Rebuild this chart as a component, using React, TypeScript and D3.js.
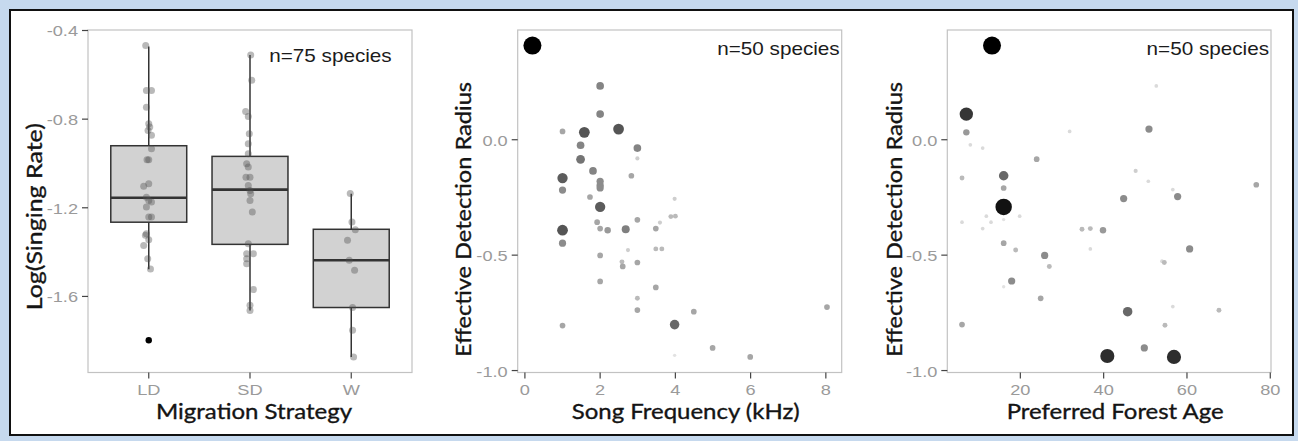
import { useEffect, useRef } from 'react';
import * as d3 from 'd3';

const WIDTH = 1298;
const HEIGHT = 441;

const COLORS = {
    page: '#c6d9ee',
    frame: '#111111',
    border: '#c2c2c2',
    tick: '#444444',
    tickText: '#9a9a9a',
    title: '#141414',
    box: '#d2d2d2',
    boxLine: '#333333',
    jitter: '#505050',
};

// ---- Panel 1: singing rate by migration strategy ----
const strategies = ['LD', 'SD', 'W'];
const boxLower = [-1.477, -1.663, -1.873];
const boxQ1 = [-1.265, -1.365, -1.65];
const boxMedian = [-1.155, -1.118, -1.437];
const boxQ3 = [-0.92, -0.968, -1.297];
const boxUpper = [-0.472, -0.51, -1.137];
const outliers: [string, number][] = [['LD', -1.798]];

// [value, jitter offset in category units]
const pointsLD: [number, number][] = [
    [-0.468, -0.03], [-0.671, -0.023], [-0.671, 0.027], [-0.746, -0.023], [-0.821, 0],
    [-0.836, 0.01], [-0.851, -0.007], [-0.873, 0.027], [-0.934, 0.027], [-0.983, -0.017],
    [-0.983, 0], [-1.091, 0], [-1.103, -0.05], [-1.152, -0.023], [-1.167, 0],
    [-1.174, 0.027], [-1.197, -0.023], [-1.242, 0], [-1.242, 0.027], [-1.317, -0.023],
    [-1.324, -0.033], [-1.344, 0], [-1.37, -0.05], [-1.43, -0.01], [-1.476, 0.017],
];
const pointsSD: [number, number][] = [
    [-0.51, 0.007], [-0.625, 0.017], [-0.765, -0.043], [-0.788, -0.017], [-0.866, -0.007],
    [-0.911, -0.017], [-0.956, -0.017], [-1.001, -0.033], [-1.016, -0.017], [-1.062, -0.04],
    [-1.062, 0], [-1.099, -0.017], [-1.122, 0], [-1.137, 0.007], [-1.167, 0],
    [-1.219, 0.023], [-1.362, -0.017], [-1.407, -0.033], [-1.407, 0.033], [-1.43, -0.033],
    [-1.452, -0.033], [-1.569, 0.033], [-1.64, 0], [-1.663, 0],
];
const pointsW: [number, number][] = [
    [-1.136, -0.01], [-1.264, 0.007], [-1.299, 0.04], [-1.347, -0.037], [-1.437, -0.02],
    [-1.482, 0.033], [-1.65, 0.013], [-1.753, 0.013], [-1.873, 0.023],
];
const singingTicks = [-0.4, -0.8, -1.2, -1.6];

// ---- Panel 2: detection radius vs song frequency [kHz, radius, weight] ----
const songFreq: [number, number, number][] = [
    [0.2, 0.408, 10], [2.0, 0.233, 3.3], [2.0, 0.111, 3.3], [1.0, 0.036, 2], [1.58, 0.032, 5.3],
    [2.49, 0.046, 5.3], [2.99, -0.036, 3.3], [1.48, -0.024, 3.3], [2.99, -0.081, 1], [1.48, -0.085, 4],
    [1.81, -0.135, 3.3], [2.83, -0.156, 2], [1.0, -0.166, 5], [2.0, -0.18, 3], [2.0, -0.197, 3],
    [2.0, -0.209, 3], [1.0, -0.218, 3], [1.73, -0.248, 2], [2.0, -0.291, 5], [3.98, -0.256, 1],
    [3.88, -0.333, 1.5], [4.0, -0.331, 1.5], [2.99, -0.347, 2], [3.59, -0.359, 1], [1.92, -0.357, 2],
    [2.0, -0.385, 2], [2.2, -0.392, 2.5], [1.0, -0.392, 5.3], [2.68, -0.388, 3.5], [3.48, -0.385, 2],
    [1.0, -0.448, 3], [2.74, -0.478, 1], [3.48, -0.473, 1.5], [3.64, -0.473, 1.5], [2.0, -0.501, 2],
    [2.58, -0.529, 1.5], [2.6, -0.549, 2], [2.99, -0.532, 2], [2.0, -0.614, 2], [3.48, -0.64, 2],
    [2.99, -0.687, 1.5], [2.99, -0.738, 2], [4.49, -0.745, 2], [8.03, -0.725, 2], [1.0, -0.805, 2],
    [3.98, -0.801, 4.5], [4.99, -0.902, 2], [5.99, -0.941, 2], [3.98, -0.934, 0.5],
];
const freqTicks = [0, 2, 4, 6, 8];

// ---- Panel 3: detection radius vs preferred forest age [age, radius, weight] ----
const forestAge: [number, number, number][] = [
    [13.2, 0.408, 10], [7.04, 0.111, 7], [7.04, 0.032, 2.5], [8.0, -0.022, 0.7], [10.96, -0.036, 0.7],
    [31.84, 0.036, 0.7], [52.64, 0.233, 0.7], [50.88, 0.046, 3], [23.92, -0.084, 2], [6.0, -0.166, 1.5],
    [16, -0.156, 4.5], [16, -0.209, 2], [47.68, -0.135, 1], [50.72, -0.18, 0.7], [56.6, -0.216, 0.7],
    [57.76, -0.246, 3], [76.64, -0.195, 2], [44.8, -0.255, 3], [16, -0.291, 9], [6.0, -0.357, 0.7],
    [11.84, -0.331, 0.7], [12.96, -0.357, 0.7], [10.96, -0.385, 0.7], [19.84, -0.331, 0.7], [16, -0.346, 0.5],
    [34.8, -0.388, 1.5], [36.8, -0.385, 1.5], [39.84, -0.392, 2.5], [36.8, -0.473, 0.7], [16, -0.448, 2],
    [18.88, -0.478, 1.5], [25.84, -0.501, 3], [26.96, -0.549, 1.5], [60.64, -0.473, 3], [54.56, -0.532, 1.5],
    [54, -0.526, 0.7], [17.92, -0.612, 3], [16, -0.637, 0.5], [24.88, -0.687, 2], [45.76, -0.745, 4.5],
    [56.6, -0.723, 0.7], [67.68, -0.739, 1.5], [6, -0.801, 2], [54.72, -0.804, 1.5], [49.76, -0.902, 3],
    [40.88, -0.937, 7.5], [56.88, -0.941, 7.5],
];
const ageTicks = [20, 40, 60, 80];
const radiusTicks = [0.0, -0.5, -1.0];

type Sel = d3.Selection<SVGGElement, unknown, null, undefined>;

interface TextOpts {
    anchor?: string;
    size?: number;
    family?: string;
    fill?: string;
    sx?: number;
    rotate?: number;
    length?: number;
    heavy?: boolean;
}

const TICK_FONT = "'Liberation Sans', Arial, sans-serif";
const TITLE_FONT = "Lato, 'Open Sans', sans-serif";

function addText(g: Sel, x: number, y: number, text: string, o: TextOpts = {}) {
    let tr = `translate(${x},${y})`;
    if (o.rotate) tr += ` rotate(${o.rotate})`;
    if (o.sx) tr += ` scale(${o.sx},1)`;
    const t = g.append('text')
        .attr('transform', tr)
        .attr('text-anchor', o.anchor || 'middle')
        .style('font-family', o.family || TICK_FONT)
        .style('font-size', `${o.size || 14}px`)
        .attr('fill', o.fill || COLORS.tickText)
        .text(text);
    if (o.length) t.attr('textLength', o.length).attr('lengthAdjust', 'spacingAndGlyphs');
    // titles in the original are a touch heavier than Lato regular
    if (o.heavy) t.attr('stroke', o.fill || COLORS.title).attr('stroke-width', 0.35);
}

// ggplot-like 5% expansion of a continuous range
function expand(ext: [number, number], mult = 0.05): [number, number] {
    const pad = (ext[1] - ext[0]) * mult;
    return [ext[0] - pad, ext[1] + pad];
}

function drawFrame(g: Sel, left: number, right: number, top: number, bottom: number) {
    g.append('rect')
        .attr('x', left).attr('y', top)
        .attr('width', right - left).attr('height', bottom - top)
        .attr('fill', '#fff')
        .attr('stroke', COLORS.border).attr('stroke-width', 1.2);
}

function yAxis(g: Sel, y: d3.ScaleLinear<number, number>, left: number, ticks: number[], fmt: (v: number) => string) {
    ticks.forEach(v => {
        g.append('line')
            .attr('x1', left - 6).attr('x2', left)
            .attr('y1', y(v)).attr('y2', y(v))
            .attr('stroke', COLORS.tick).attr('stroke-width', 1.2);
        addText(g, left - 10, y(v) + 6, fmt(v), { anchor: 'end', sx: 1.3 });
    });
}

function xAxis(g: Sel, xs: { pos: number; label: string }[], bottom: number) {
    xs.forEach(({ pos, label }) => {
        g.append('line')
            .attr('x1', pos).attr('x2', pos)
            .attr('y1', bottom).attr('y2', bottom + 6)
            .attr('stroke', COLORS.tick).attr('stroke-width', 1.2);
        addText(g, pos, bottom + 22, label, { sx: 1.3 });
    });
}

function drawScatter(
    g: Sel,
    data: [number, number, number][],
    box: { left: number; right: number; top: number; bottom: number },
    xTicks: number[],
    xTitle: string,
    xTitleLen: number,
    yTitleX: number,
) {
    const x = d3.scaleLinear().domain(expand(d3.extent(data, d => d[0]) as [number, number])).range([box.left, box.right]);
    const y = d3.scaleLinear().domain(expand(d3.extent(data, d => d[1]) as [number, number])).range([box.bottom, box.top]);
    const r = d3.scaleLinear().domain([0, 10]).range([1.3, 9]);
    const shade = d3.scaleLinear<string>()
        .domain([0.5, 2, 3.3, 5.3, 10])
        .range(['#e2e2e2', '#a6a6a6', '#848484', '#555555', '#000000']);

    drawFrame(g, box.left, box.right, box.top, box.bottom);

    const sorted = [...data].sort((a, b) => a[2] - b[2]);
    g.append('g').selectAll('circle')
        .data(sorted)
        .join('circle')
        .attr('cx', d => x(d[0]))
        .attr('cy', d => y(d[1]))
        .attr('r', d => r(d[2]))
        .attr('fill', d => shade(d[2]));

    yAxis(g, y, box.left, radiusTicks, d => d.toFixed(1));
    xAxis(g, xTicks.map(v => ({ pos: x(v), label: String(v) })), box.bottom);

    addText(g, box.right - 2, box.top + 24.5, 'n=50 species', { anchor: 'end', size: 18, fill: '#1b1b1b', sx: 1.15 });
    addText(g, (box.left + box.right) / 2 + 6, 419.3, xTitle, { size: 21.5, family: TITLE_FONT, fill: COLORS.title, length: xTitleLen, heavy: true });
    addText(g, yTitleX, 219.5, 'Effective Detection Radius', { size: 21.5, family: TITLE_FONT, fill: COLORS.title, rotate: -90, length: 275, heavy: true });
}

export default function App() {
    const svgRef = useRef<SVGSVGElement>(null);

    useEffect(() => {
        if (!svgRef.current) return;
        const svg = d3.select(svgRef.current);
        svg.selectAll('*').remove();
        const root = svg.append('g') as unknown as Sel;

        // page background and framed white card
        root.append('rect').attr('width', WIDTH).attr('height', HEIGHT).attr('fill', COLORS.page);
        root.append('rect')
            .attr('x', 10).attr('y', 10).attr('width', 1283).attr('height', 425)
            .attr('fill', '#fff').attr('stroke', COLORS.frame).attr('stroke-width', 2);

        // ---- Panel 1 ----
        const p1 = { left: 88, right: 412, top: 30, bottom: 372.5 };
        const allVals = [
            ...pointsLD.map(d => d[0]), ...pointsSD.map(d => d[0]), ...pointsW.map(d => d[0]),
            ...boxLower, ...boxUpper, ...outliers.map(d => d[1]),
        ];
        const y1 = d3.scaleLinear().domain(expand(d3.extent(allVals) as [number, number])).range([p1.bottom, p1.top]);
        const x1 = d3.scalePoint<string>().domain(strategies).range([p1.left, p1.right]).padding(0.6);
        const step = x1.step();
        const bw = step * 0.75;

        const g1 = root.append('g') as unknown as Sel;
        drawFrame(g1, p1.left, p1.right, p1.top, p1.bottom);

        strategies.forEach((s, i) => {
            const cx = x1(s)!;
            g1.append('line')
                .attr('x1', cx).attr('x2', cx)
                .attr('y1', y1(boxUpper[i])).attr('y2', y1(boxQ3[i]))
                .attr('stroke', COLORS.boxLine).attr('stroke-width', 1.5);
            g1.append('line')
                .attr('x1', cx).attr('x2', cx)
                .attr('y1', y1(boxQ1[i])).attr('y2', y1(boxLower[i]))
                .attr('stroke', COLORS.boxLine).attr('stroke-width', 1.5);
            g1.append('rect')
                .attr('x', cx - bw / 2).attr('y', y1(boxQ3[i]))
                .attr('width', bw).attr('height', y1(boxQ1[i]) - y1(boxQ3[i]))
                .attr('fill', COLORS.box)
                .attr('stroke', COLORS.boxLine).attr('stroke-width', 1.5);
            g1.append('line')
                .attr('x1', cx - bw / 2).attr('x2', cx + bw / 2)
                .attr('y1', y1(boxMedian[i])).attr('y2', y1(boxMedian[i]))
                .attr('stroke', COLORS.boxLine).attr('stroke-width', 2.6);
        });

        g1.append('g').selectAll('circle')
            .data(outliers)
            .join('circle')
            .attr('cx', d => x1(d[0])!)
            .attr('cy', d => y1(d[1]))
            .attr('r', 3.2)
            .attr('fill', '#000');

        const groups: [string, [number, number][]][] = [['LD', pointsLD], ['SD', pointsSD], ['W', pointsW]];
        groups.forEach(([s, pts]) => {
            g1.append('g').selectAll('circle')
                .data(pts)
                .join('circle')
                .attr('cx', d => x1(s)! + d[1] * step)
                .attr('cy', d => y1(d[0]))
                .attr('r', 3.5)
                .attr('fill', COLORS.jitter)
                .attr('fill-opacity', 0.4);
        });

        yAxis(g1, y1, p1.left, singingTicks, d => d.toFixed(1));
        xAxis(g1, strategies.map(s => ({ pos: x1(s)!, label: s })), p1.bottom);

        addText(g1, 391.7, 61.5, 'n=75 species', { anchor: 'end', size: 18, fill: '#1b1b1b', sx: 1.15 });
        addText(g1, 254, 418.5, 'Migration Strategy', { size: 21.5, family: TITLE_FONT, fill: COLORS.title, length: 196, heavy: true });
        addText(g1, 42, 216.7, 'Log(Singing Rate)', { size: 21.5, family: TITLE_FONT, fill: COLORS.title, rotate: -90, length: 187, heavy: true });

        // ---- Panel 2 ----
        drawScatter(root.append('g') as unknown as Sel, songFreq,
            { left: 517.7, right: 841.7, top: 30, bottom: 372.5 },
            freqTicks, 'Song Frequency (kHz)', 228, 471);

        // ---- Panel 3 ----
        drawScatter(root.append('g') as unknown as Sel, forestAge,
            { left: 947.3, right: 1271, top: 30, bottom: 372.5 },
            ageTicks, 'Preferred Forest Age', 217, 902);
    }, []);

    return (
        <svg ref={svgRef} width={WIDTH} height={HEIGHT}
            style={{ position: 'absolute', left: 0, top: 0, display: 'block' }} />
    );
}
